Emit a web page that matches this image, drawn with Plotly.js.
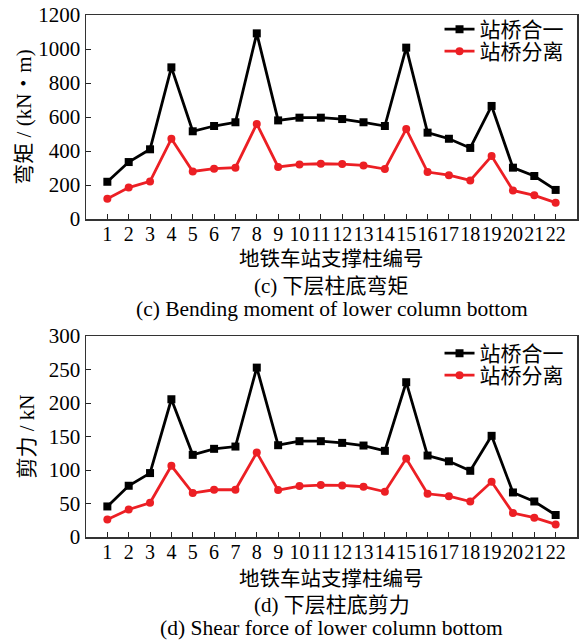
<!DOCTYPE html>
<html>
<head>
<meta charset="utf-8">
<script src="https://cdn.plot.ly/plotly-3.0.1.min.js"></script>
<style>html,body{margin:0;padding:0;background:#fff;}#chart{width:581px;height:640px;}</style>
</head>
<body>
<div id="chart"></div>
<script>
// Column numbers
const columns = [1,2,3,4,5,6,7,8,9,10,11,12,13,14,15,16,17,18,19,20,21,22];
const tickLabels = columns.map(String);
const seriesNames = ['站桥合一', '站桥分离'];
const xTitle = '地铁车站支撑柱编号';

// (c) Bending moment of lower column bottom, kN·m
const momentCombined = [219,335,410,892,516,547,569,1092,580,596,596,588,569,547,1008,508,472,418,665,302,253,171];
const momentSeparated = [119,185,221,472,280,296,302,559,306,321,325,323,315,294,529,276,258,227,370,168,139,96];

// (d) Shear force of lower column bottom, kN
const shearCombined = [45.6,76.5,95.4,205.6,122.6,131.6,135,252.8,137,143,143,140.5,136.5,128.6,231,121.6,113,98.8,151,66.5,53,32.8];
const shearSeparated = [26.2,41.1,51.1,106.3,65.6,70.5,70.5,126,70,76,77.5,77,75,67.5,117,64.5,61,53,82.4,35.8,28.8,18.8];

const serif = 'Liberation Serif, Noto Sans CJK SC, serif';
const fontSize = 21;

function mk(x, y, name, color, symbol, xa, ya, legend) {
  return {
    x: x, y: y, name: name, type: 'scatter', mode: 'lines+markers',
    line: {color: color, width: 2.8},
    marker: {color: color, symbol: symbol, size: 8},
    xaxis: xa, yaxis: ya, legend: legend
  };
}

const data = [
  mk(columns, momentCombined, seriesNames[0], '#000000', 'square', 'x', 'y', 'legend'),
  mk(columns, momentSeparated, seriesNames[1], '#ec1f24', 'circle', 'x', 'y', 'legend2'),
  mk(columns, shearCombined, seriesNames[0], '#000000', 'square', 'x2', 'y2', 'legend3'),
  mk(columns, shearSeparated, seriesNames[1], '#ec1f24', 'circle', 'x2', 'y2', 'legend4')
];

const L = 86, R = 4, T = 15, B = 103;
const H = 640 - T - B;
function py(px) { return (640 - B - px) / H; }

const xBase = {
  range: [0, 23], tickmode: 'array', tickvals: columns, ticktext: tickLabels, tickangle: 0,
  ticks: 'inside', ticklen: 5, tickcolor: '#222', tickwidth: 1, ticklabelstandoff: -4,
  showline: true, mirror: true, linecolor: '#333', linewidth: 1.5,
  showgrid: false, zeroline: false, automargin: false,
  tickfont: {family: serif, size: 20, color: '#000'}
};
const yBase = {
  ticks: 'inside', ticklen: 5, tickcolor: '#222', tickwidth: 1,
  showline: true, mirror: true, linecolor: '#333', linewidth: 1.5,
  showgrid: false, zeroline: false, automargin: false,
  tickfont: {family: serif, size: fontSize, color: '#000'}
};

function leg(topPx) {
  return {x: 0.72, xanchor: 'left', y: py(topPx), yanchor: 'top', bgcolor: 'rgba(0,0,0,0)',
    font: {family: serif, size: fontSize}, tracegroupgap: 0};
}
function ann(text, ypx, size) {
  return {text: text, xref: 'paper', yref: 'paper', x: 0.5, y: py(ypx), showarrow: false,
    xanchor: 'center', yanchor: 'middle', font: {family: serif, size: size}};
}

const layout = {
  width: 581, height: 640,
  margin: {l: L, r: R, t: T, b: B},
  paper_bgcolor: '#fff', plot_bgcolor: '#fff',
  showlegend: true,
  font: {family: serif, size: fontSize, color: '#000'},
  xaxis: Object.assign({}, xBase, {domain: [0, 1], anchor: 'y'}),
  yaxis: Object.assign({}, yBase, {domain: [py(219), 1], anchor: 'x', range: [0, 1200], dtick: 200,
    title: {text: '弯矩 / (kN・m)', font: {family: serif, size: fontSize}}}),
  xaxis2: Object.assign({}, xBase, {domain: [0, 1], anchor: 'y2'}),
  yaxis2: Object.assign({}, yBase, {domain: [0, py(336)], anchor: 'x2', range: [0, 300], dtick: 50,
    title: {text: '剪力 / kN', font: {family: serif, size: fontSize}}}),
  legend: leg(9),
  legend2: leg(31),
  legend3: leg(333),
  legend4: leg(355),
  annotations: [
    ann(xTitle, 259, 20.5),
    ann('(c) 下层柱底弯矩', 286, fontSize),
    ann('(c) Bending moment of lower column bottom', 308.5, 21.5),
    ann(xTitle, 579, 20.5),
    ann('(d) 下层柱底剪力', 605, fontSize),
    ann('(d) Shear force of lower column bottom', 627.5, 21.5)
  ]
};

Plotly.newPlot('chart', data, layout, {displayModeBar: false, staticPlot: true});
</script>
</body>
</html>
